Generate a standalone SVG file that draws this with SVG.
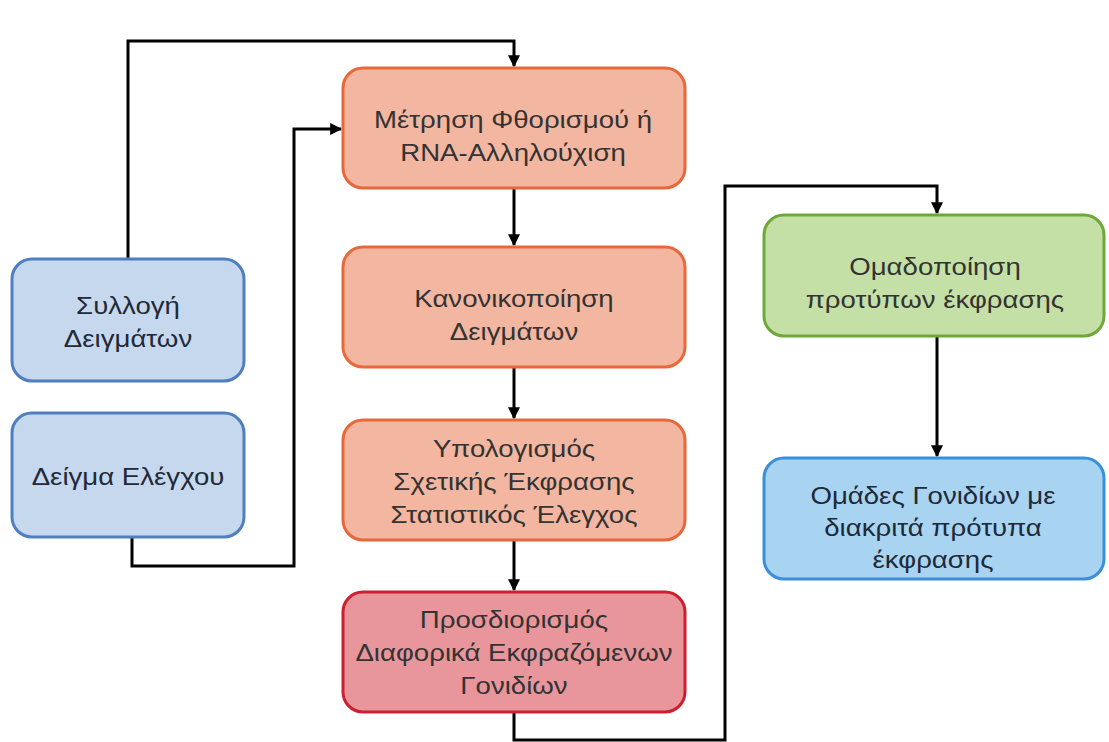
<svg xmlns="http://www.w3.org/2000/svg" width="1109" height="742" viewBox="0 0 1109 742">
<defs>
<marker id="arr" viewBox="0 0 10 10" refX="9" refY="5" markerWidth="4" markerHeight="4" markerUnits="strokeWidth" orient="auto">
<path d="M0,0 L10,5 L0,10 z" fill="#000"/>
</marker>
<style>
.box{stroke-width:3}
.or{fill:#f3b6a0;stroke:#e8683a}
.rd{fill:#e8969b;stroke:#cc1f2f}
.lb{fill:#c6d8ee;stroke:#4f7fbf}
.gr{fill:#c5e0a6;stroke:#6ea83a}
.bl{fill:#a8d3f1;stroke:#3a8fd8}
text{font-family:"Liberation Sans",Arial,sans-serif;font-size:24px;fill:#333;text-anchor:middle}
.dk text{fill:#1f2937}
.c{fill:none;stroke:#000;stroke-width:3;marker-end:url(#arr)}
</style>
</defs>
<rect width="1109" height="742" fill="#fff"/>
<g id="connectors">
<path class="c" d="M128,259 V41 H514 V66"/>
<path class="c" d="M132,537 V566 H294 V129 H341"/>
<path class="c" d="M514,188 V245"/>
<path class="c" d="M514,367 V418"/>
<path class="c" d="M514,540 V590"/>
<path class="c" d="M514,712 V740 H725 V186 H937 V213"/>
<path class="c" d="M937,336 V456"/>
</g>
<g id="n1"><rect class="box or" x="343" y="68" width="342" height="120" rx="20"/>
<g transform="translate(513,0) scale(1.15,1)"><text x="0" y="128">Μέτρηση Φθορισμού ή</text><text x="0" y="161">RNA-Αλληλούχιση</text></g></g>
<g id="n2"><rect class="box or" x="343" y="247" width="342" height="120" rx="20"/>
<g transform="translate(514,0) scale(1.15,1)"><text x="0" y="307">Κανονικοποίηση</text><text x="0" y="340">Δειγμάτων</text></g></g>
<g id="n3"><rect class="box or" x="343" y="420" width="342" height="120" rx="20"/>
<g transform="translate(514,0) scale(1.15,1)"><text x="0" y="457">Υπολογισμός</text><text x="0" y="490">Σχετικής Έκφρασης</text><text x="0" y="523">Στατιστικός Έλεγχος</text></g></g>
<g id="n4"><rect class="box rd" x="343" y="592" width="342" height="120" rx="20"/>
<g transform="translate(514,0) scale(1.15,1)"><text x="0" y="628">Προσδιορισμός</text><text x="0" y="661">Διαφορικά Εκφραζόμενων</text><text x="0" y="694">Γονιδίων</text></g></g>
<g id="n5"><rect class="box lb" x="12" y="259" width="232" height="122" rx="20"/>
<g class="dk" transform="translate(128,0) scale(1.15,1)"><text x="0" y="314">Συλλογή</text><text x="0" y="347">Δειγμάτων</text></g></g>
<g id="n6"><rect class="box lb" x="12" y="413" width="232" height="124" rx="20"/>
<g class="dk" transform="translate(128,0) scale(1.15,1)"><text x="0" y="485">Δείγμα Ελέγχου</text></g></g>
<g id="n7"><rect class="box gr" x="764" y="215" width="340" height="121" rx="20"/>
<g transform="translate(935,0) scale(1.15,1)"><text x="0" y="275">Ομαδοποίηση</text><text x="0" y="308">προτύπων έκφρασης</text></g></g>
<g id="n8"><rect class="box bl" x="764" y="458" width="340" height="121" rx="20"/>
<g class="dk" transform="translate(933,0) scale(1.15,1)"><text x="0" y="504">Ομάδες Γονιδίων με</text><text x="0" y="536">διακριτά πρότυπα</text><text x="0" y="568">έκφρασης</text></g></g>
</svg>
